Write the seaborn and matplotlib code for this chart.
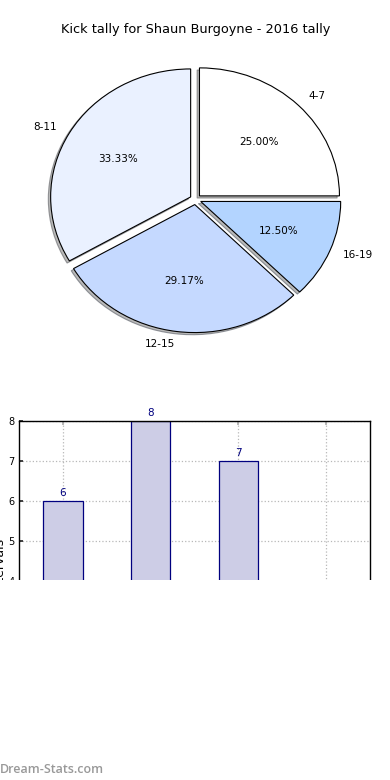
"""Kick tally pie and bar chart for Shaun Burgoyne, 2016."""

import matplotlib

matplotlib.use("Agg")
import matplotlib.pyplot as plt
import pandas as pd
import seaborn as sns
from matplotlib.patches import Rectangle


TITLE = "Kick tally for Shaun Burgoyne - 2016 tally"
INTERVALS = ["4-7", "8-11", "12-15", "16-19"]
GAME_COUNTS = [6, 8, 7, 3]
SLICE_COLOURS = ["#ffffff", "#eaf1ff", "#c5d9ff", "#b3d4ff"]
Y_TICKS = [4, 5, 6, 7, 8]

sns.set_theme(style="white")
plt.rcParams["font.family"] = ["DejaVu Sans"]
plt.rcParams["text.color"] = "black"
plt.rcParams["axes.labelcolor"] = "black"

fig = plt.figure(figsize=(3.9, 7.8), dpi=100)

# pie on top (stretched wider than tall, like the old page)
ax_pie = fig.add_axes([20.5 / 390, (780 - 359.5) / 780, 350 / 390, 320 / 780])
ax_pie.pie(
    GAME_COUNTS,
    labels=INTERVALS,
    colors=SLICE_COLOURS,
    explode=[0.04] * len(GAME_COUNTS),
    autopct="%.2f%%",
    shadow={"ox": -0.012, "oy": -0.012, "facecolor": "#777777"},
    startangle=0,
    wedgeprops={"edgecolor": "black", "linewidth": 0.8},
    textprops={"fontsize": 7.5, "color": "black"},
)
ax_pie.set_aspect("auto")
ax_pie.set_xlim(-1.25, 1.25)
ax_pie.set_ylim(-1.25, 1.25)
ax_pie.set_title(TITLE, fontsize=9.25, pad=5, color="black")

# bar chart below, bottom half hidden as in the original page
df = pd.DataFrame({"interval": INTERVALS, "games": GAME_COUNTS})
ax_bar = fig.add_axes([19 / 390, (780 - 741) / 780, 351 / 390, 320 / 780])
sns.barplot(
    data=df,
    x="interval",
    y="games",
    width=0.45,
    color="#cdcde6",
    saturation=1,
    edgecolor="#00007f",
    linewidth=0.9,
    ax=ax_bar,
    zorder=2,
)
for patch, value in zip(ax_bar.patches, GAME_COUNTS):
    ax_bar.text(
        patch.get_x() + patch.get_width() / 2,
        value + 0.08,
        str(value),
        ha="center",
        va="bottom",
        fontsize=7.5,
        color="#00007f",
    )
ax_bar.set_ylim(0, 8)
ax_bar.set_xlim(-0.5, 3.5)
ax_bar.set_yticks(Y_TICKS)
ax_bar.set_xticks(range(len(INTERVALS)))
ax_bar.set_xticklabels([])
ax_bar.set_xlabel("")
ax_bar.set_ylabel("Kick intervals", fontsize=9, labelpad=1, color="black")
ax_bar.tick_params(axis="y", labelsize=7, labelcolor="black", direction="in",
                   length=3, left=True, pad=3)
ax_bar.tick_params(axis="x", direction="in", length=3, top=True, bottom=True,
                   color="#b0b0b0")
ax_bar.grid(True, color="#b8b8b8", linestyle=":", linewidth=0.9, zorder=0)
ax_bar.set_axisbelow(True)
for spine in ax_bar.spines.values():
    spine.set_color("black")
    spine.set_linewidth(1.0)

# white cover over the lower part of the bar chart
fig.patches.append(
    Rectangle((0, 0), 1, (780 - 580) / 780, transform=fig.transFigure,
              facecolor="white", edgecolor="none", zorder=10)
)
fig.text(0.0, 4 / 780, "Dream-Stats.com", fontsize=9, color="#999999",
         family=["Open Sans", "DejaVu Sans"], fontweight="semibold",
         ha="left", va="bottom", zorder=11)

fig.savefig("out.png", dpi=100)
